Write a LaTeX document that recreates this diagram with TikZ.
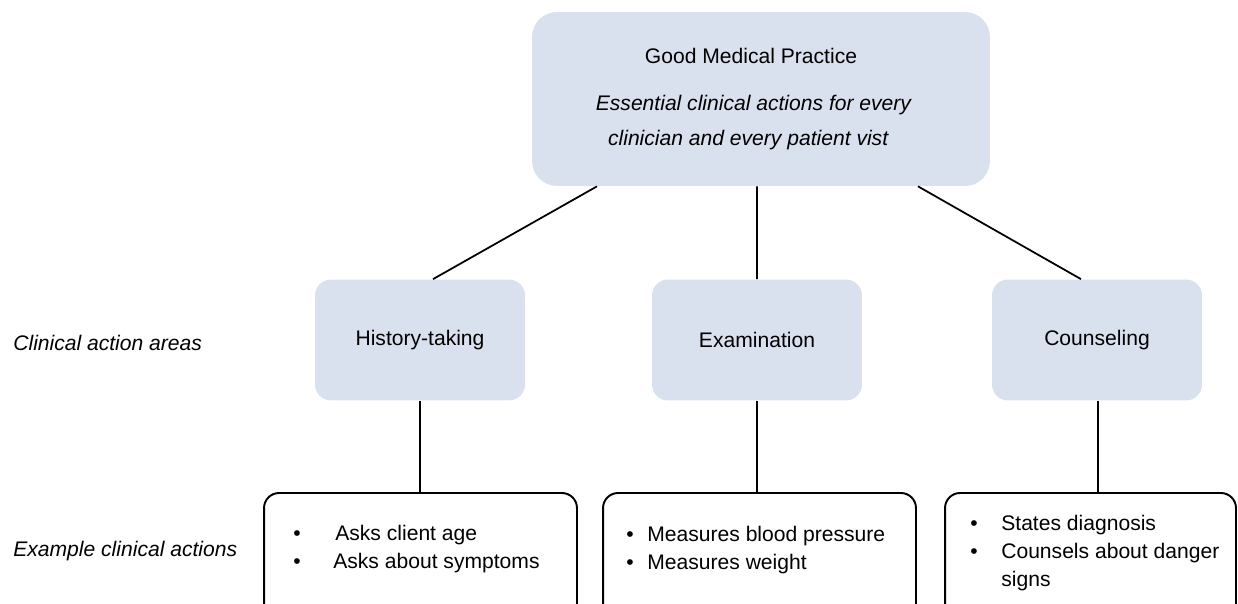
\documentclass[tikz,border=0pt]{standalone}
\usepackage{fontspec}
\setmainfont{Liberation Sans}
\usepackage{tikz}

\definecolor{boxblue}{RGB}{218,225,238}
\newcommand{\bul}[1]{\makebox[#1][l]{\textbullet}}

\tikzset{
    mainbox/.style={fill=boxblue, rounded corners=0.5cm, inner sep=0pt,
        minimum width=9.16cm, minimum height=3.48cm, align=center,
        font=\fontsize{12}{20}\selectfont},
    areabox/.style={fill=boxblue, rounded corners=0.32cm, inner sep=0pt,
        minimum width=4.2cm, minimum height=2.42cm},
    actbox/.style={draw, line width=1.1pt, rounded corners=0.3cm, inner sep=0pt,
        minimum height=3.14cm},
    sidelabel/.style={anchor=west, inner sep=0pt, font=\fontsize{12}{16}\selectfont\itshape},
    listtext/.style={anchor=west, inner sep=0pt, align=left},
    link/.style={line width=1pt}
}

\begin{document}
\begin{tikzpicture}[x=0.02cm, y=-0.02cm, font=\fontsize{12}{16}\selectfont]
    \clip (0,0) rectangle (1238,604);
    \useasboundingbox (0,0) rectangle (1238,604);

    % top box
    \node[mainbox] (top) at (761,99)
        {Good Medical Practice\rule{0.4cm}{0pt}\\[6.7pt]
         \textit{Essential clinical actions for every}\rule{0.28cm}{0pt}\\
         \textit{clinician and every patient vist}\rule{0.5cm}{0pt}};

    % clinical action areas
    \node[areabox] (hist)  at (420,340)  {History-taking};
    \node[areabox] (exam)  at (757,340)  {Examination};
    \node[areabox] (couns) at (1097,340) {Counseling};

    % example clinical actions
    \node[actbox, minimum width=6.26cm] (act1) at (420.5,571.5) {};
    \node[actbox, minimum width=6.26cm] (act2) at (759.5,571.5) {};
    \node[actbox, minimum width=5.82cm] (act3) at (1090.5,571.5) {};

    \node[listtext] (list1) at (293,549)
        {\bul{0.84cm}Asks client age\\ \bul{0.8cm}Asks about symptoms};
    \node[listtext] (list2) at (626,550)
        {\bul{0.42cm}Measures blood pressure\\ \bul{0.42cm}Measures weight};
    \node[listtext] (list3) at (970,553)
        {\bul{0.62cm}States diagnosis\\ \bul{0.62cm}Counsels about danger\\ \hspace*{0.62cm}signs};

    % row labels
    \node[sidelabel] (arealabel) at (13,343) {Clinical action areas};
    \node[sidelabel] (actlabel)  at (13,551) {Example clinical actions};

    % connectors
    \draw[link] ([xshift=-3.28cm]top.south) -- ([xshift=0.26cm]hist.north);
    \draw[link] ([xshift=-0.08cm]top.south) -- (exam.north);
    \draw[link] ([xshift=3.14cm]top.south)  -- ([xshift=-0.32cm]couns.north);

    \draw[link] (hist.south)  -- (hist.south |- act1.north);
    \draw[link] (exam.south)  -- (exam.south |- act2.north);
    \draw[link] ([xshift=0.02cm]couns.south) -- ([xshift=0.02cm]couns.south |- act3.north);
\end{tikzpicture}
\end{document}
